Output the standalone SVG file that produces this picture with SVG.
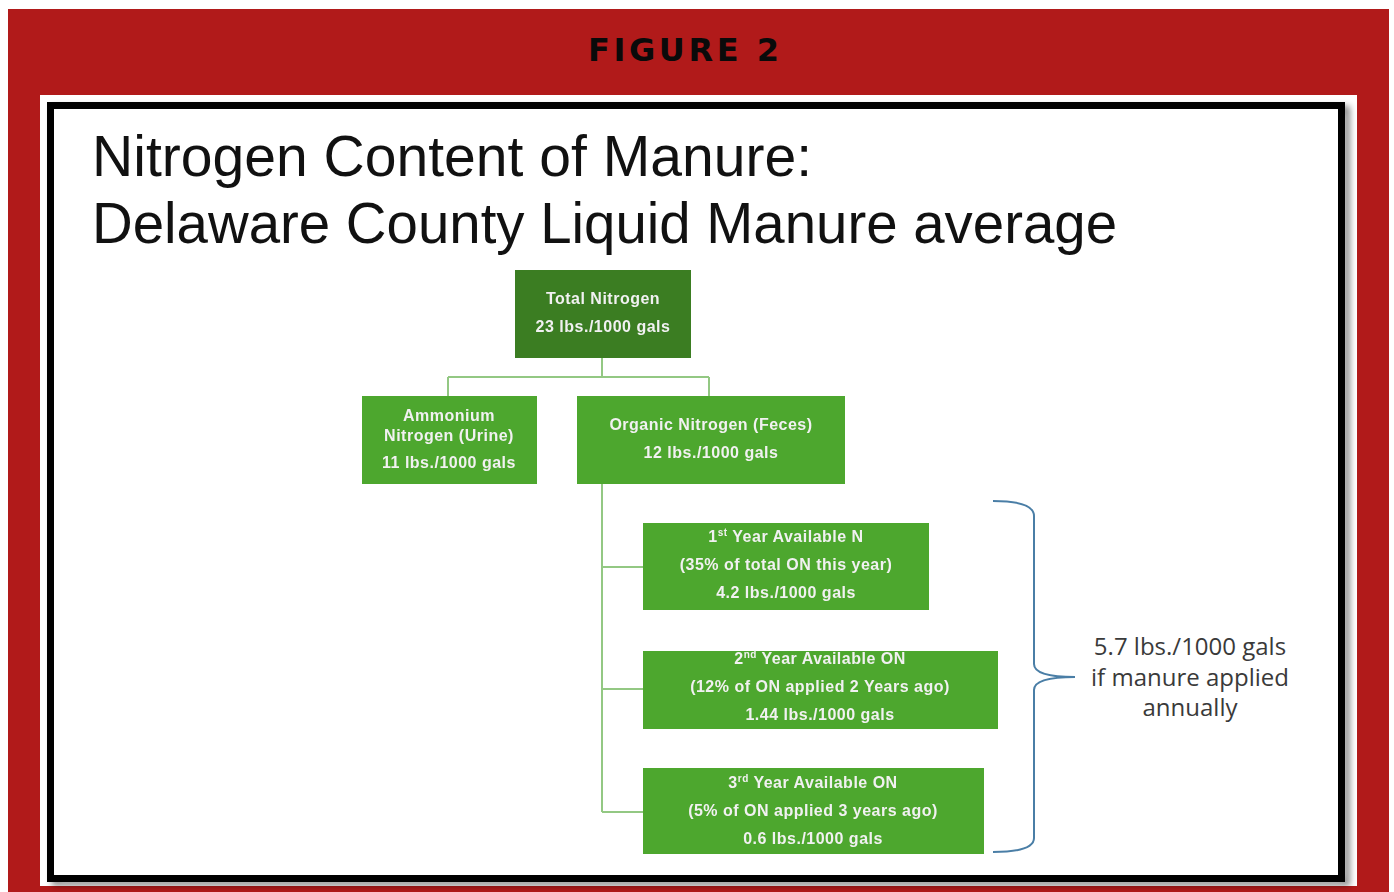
<svg xmlns="http://www.w3.org/2000/svg" width="1394" height="892" viewBox="0 0 1394 892">
  <defs>
    <filter id="frameShadow" x="-5%" y="-5%" width="110%" height="110%">
      <feDropShadow dx="5" dy="4" stdDeviation="3" flood-color="#000" flood-opacity="0.45"/>
    </filter>
    <filter id="soft" x="-5%" y="-20%" width="110%" height="140%">
      <feGaussianBlur stdDeviation="0.35"/>
    </filter>
    <style>
      .banner { font-family: "DejaVu Sans", "Liberation Sans", sans-serif; font-weight: bold; font-size: 32px; fill: #0a0a0a; letter-spacing: 3.6px; }
      .title { font-family: "Liberation Sans", "Open Sans", sans-serif; font-size: 57px; fill: #111; }
      .box-dark { fill: #3b7d23; }
      .box { fill: #4ea72e; }
      .lbl { font-family: "Liberation Sans", "Lato", sans-serif; font-weight: bold; font-size: 16px; letter-spacing: 0.5px; fill: #f1f1f1; text-anchor: middle; }
      .sup { font-size: 10px; }
      .link { fill: none; stroke: #93c883; stroke-width: 2; }
      .brace { fill: none; stroke: #4a7ea6; stroke-width: 2; }
      .note { font-family: "Open Sans", "Liberation Sans", sans-serif; font-size: 24px; fill: #3a3a3a; text-anchor: middle; }
    </style>
  </defs>

  <!-- page background and red banner panel -->
  <rect x="0" y="0" width="1394" height="892" fill="#ffffff"/>
  <rect x="8" y="9" width="1381" height="883" fill="#b11a1a"/>
  <text class="banner" x="588" y="61">FIGURE 2</text>

  <!-- white slide area with black frame -->
  <rect x="40" y="95" width="1317" height="791" fill="#ffffff"/>
  <rect x="50.5" y="105.5" width="1291" height="773" fill="none" stroke="#000" stroke-width="7" filter="url(#frameShadow)"/>
  <rect x="54" y="109" width="1284" height="766" fill="#ffffff"/>

  <!-- slide title -->
  <text class="title" x="92" y="176" textLength="720" lengthAdjust="spacingAndGlyphs">Nitrogen Content of Manure:</text>
  <text class="title" x="92" y="243" textLength="1025" lengthAdjust="spacingAndGlyphs">Delaware County Liquid Manure average</text>

  <!-- connectors -->
  <g id="connectors">
    <path class="link" d="M602,358 V377 M448,377 H709 M448,377 V396 M709,377 V396"/>
    <path class="link" d="M602,484 V812 M602,567 H643 M602,689 H643 M602,812 H643"/>
  </g>

  <g filter="url(#soft)">
    <g id="total-nitrogen">
      <rect class="box-dark" x="515" y="270" width="176" height="88"/>
      <text class="lbl" x="603" y="304">Total Nitrogen</text>
      <text class="lbl" x="603" y="332">23 lbs./1000 gals</text>
    </g>

    <g id="ammonium-nitrogen">
      <rect class="box" x="362" y="396" width="175" height="88"/>
      <text class="lbl" x="449" y="421">Ammonium</text>
      <text class="lbl" x="449" y="441">Nitrogen (Urine)</text>
      <text class="lbl" x="449" y="468">11 lbs./1000 gals</text>
    </g>

    <g id="organic-nitrogen">
      <rect class="box" x="577" y="396" width="268" height="88"/>
      <text class="lbl" x="711" y="430">Organic Nitrogen (Feces)</text>
      <text class="lbl" x="711" y="458">12 lbs./1000 gals</text>
    </g>

    <g id="year-1">
      <rect class="box" x="643" y="523" width="286" height="87"/>
      <text class="lbl" x="786" y="542">1<tspan class="sup" dy="-6">st</tspan><tspan dy="6"> Year Available N</tspan></text>
      <text class="lbl" x="786" y="570">(35% of total ON this year)</text>
      <text class="lbl" x="786" y="598">4.2 lbs./1000 gals</text>
    </g>

    <g id="year-2">
      <rect class="box" x="643" y="651" width="355" height="78"/>
      <text class="lbl" x="820" y="664">2<tspan class="sup" dy="-6">nd</tspan><tspan dy="6"> Year Available ON</tspan></text>
      <text class="lbl" x="820" y="692">(12% of ON applied 2 Years ago)</text>
      <text class="lbl" x="820" y="720">1.44 lbs./1000 gals</text>
    </g>

    <g id="year-3">
      <rect class="box" x="643" y="768" width="341" height="86"/>
      <text class="lbl" x="813" y="788">3<tspan class="sup" dy="-6">rd</tspan><tspan dy="6"> Year Available ON</tspan></text>
      <text class="lbl" x="813" y="816">(5% of ON applied 3 years ago)</text>
      <text class="lbl" x="813" y="844">0.6 lbs./1000 gals</text>
    </g>
  </g>

  <!-- brace grouping the yearly amounts -->
  <g id="annual-total">
    <path class="brace" d="M993,501 Q1034,501 1034,516 L1034,664 Q1034,677 1075,677 Q1034,677 1034,690 L1034,838 Q1034,852 993,852"/>
    <text class="note" x="1190" y="655">5.7 lbs./1000 gals</text>
    <text class="note" x="1190" y="686">if manure applied</text>
    <text class="note" x="1190" y="716">annually</text>
  </g>
</svg>
